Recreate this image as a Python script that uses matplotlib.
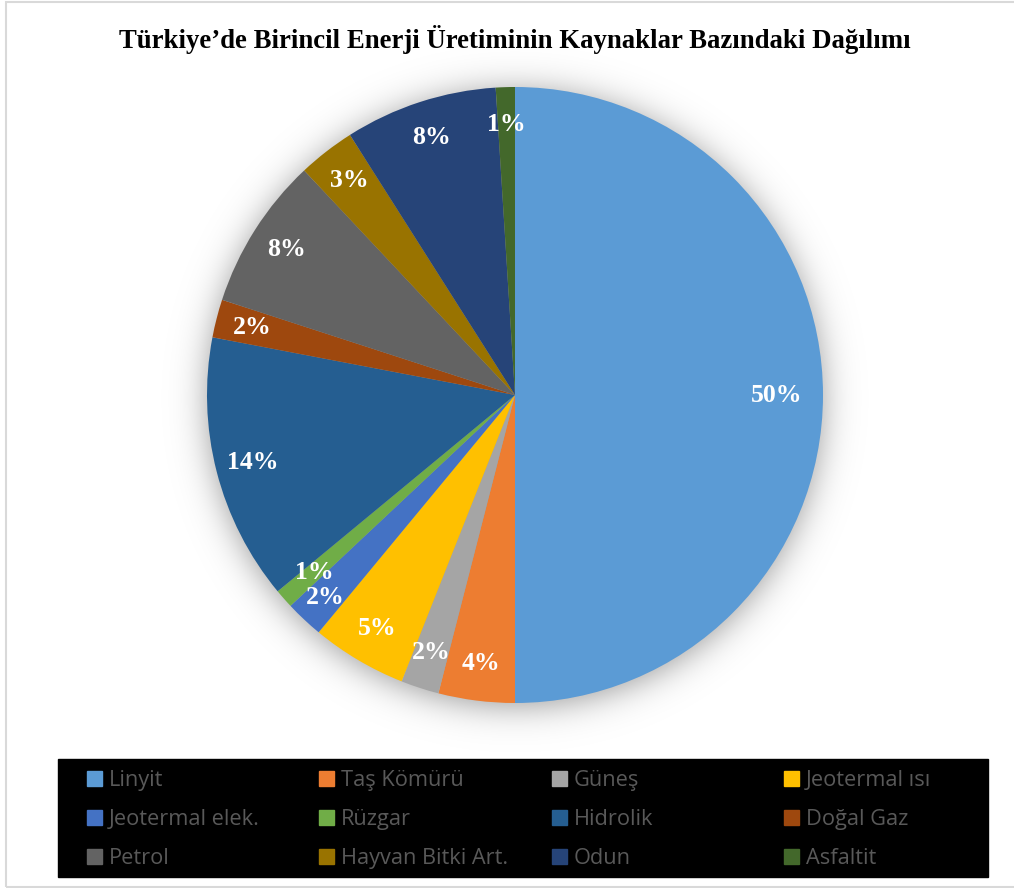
import numpy as np
import matplotlib.pyplot as plt
from matplotlib.patches import Rectangle

W, H = 1014, 888

title = 'Türkiye’de Birincil Enerji Üretiminin Kaynaklar Bazındaki Dağılımı'
sources = ['Linyit', 'Taş Kömürü', 'Güneş', 'Jeotermal ısı',
           'Jeotermal elek.', 'Rüzgar', 'Hidrolik', 'Doğal Gaz',
           'Petrol', 'Hayvan Bitki Art.', 'Odun', 'Asfaltit']
shares = [50, 4, 2, 5, 2, 1, 14, 2, 8, 3, 8, 1]
colors = ['#5B9BD5', '#ED7D31', '#A5A5A5', '#FFC000',
          '#4472C4', '#70AD47', '#255E91', '#9E480E',
          '#636363', '#997300', '#264478', '#43682B']

fig = plt.figure(figsize=(W / 100, H / 100), dpi=100)
ax = fig.add_axes([0, 0, 1, 1])

# pie geometry in pixel units (y measured from the bottom)
cx, cy, R = 515, H - 395, 308

# soft drop shadow behind the pie
yy, xx = np.mgrid[0:H, 0:W]
d = np.sqrt((xx + 0.5 - cx) ** 2 + (yy + 0.5 - (cy - 4)) ** 2) - R
shadow = np.zeros((H, W, 4))
shadow[..., 3] = 0.38 / (1 + np.exp(d / 10))
ax.imshow(shadow, extent=(0, W, 0, H), origin='lower', zorder=0,
          interpolation='bilinear')

pct_dist = 0.88
wedges, texts, autotexts = ax.pie(
    shares, colors=colors, startangle=90, counterclock=False,
    center=(cx, cy), radius=R, autopct='%1.0f%%', pctdistance=pct_dist,
    wedgeprops=dict(linewidth=0),
    textprops=dict(color='white', family='Liberation Serif',
                   weight='bold', fontsize=18.5))
for w in wedges:
    w.set_zorder(2)
for t in autotexts:
    t.set_zorder(3)

# nudge a few labels along their radius
for idx, dist in [(0, 0.85), (4, 0.90), (5, 0.87)]:
    x0, y0 = autotexts[idx].get_position()
    k = dist / pct_dist
    autotexts[idx].set_position((cx + (x0 - cx) * k, cy + (y0 - cy) * k))

ax.set_xlim(0, W)
ax.set_ylim(0, H)
ax.set_aspect('auto')
ax.axis('off')

ax.text(515, H - 40, title, ha='center', va='center', fontsize=19.3,
        family='Liberation Serif', weight='bold', color='black')

# legend box, four columns filled row by row
ax.add_patch(Rectangle((58, H - 877), 930, 118, color='black', zorder=4))
for i, name in enumerate(sources):
    col, row = i % 4, i // 4
    mx = 87 + col * 232.3
    my = H - (778 + row * 39)
    ax.add_patch(Rectangle((mx, my - 7.5), 15, 15, color=colors[i], zorder=5))
    ax.text(mx + 22, my - 8, name, ha='left', va='baseline', fontsize=15.7,
            family='Open Sans', color='#595959', zorder=5)

# thin chart-area frame
ax.add_patch(Rectangle((6, H - 887), W, 885, fill=False, ec='#D9D9D9',
                       lw=1.5, zorder=6))

fig.savefig('out.png', dpi=100)
